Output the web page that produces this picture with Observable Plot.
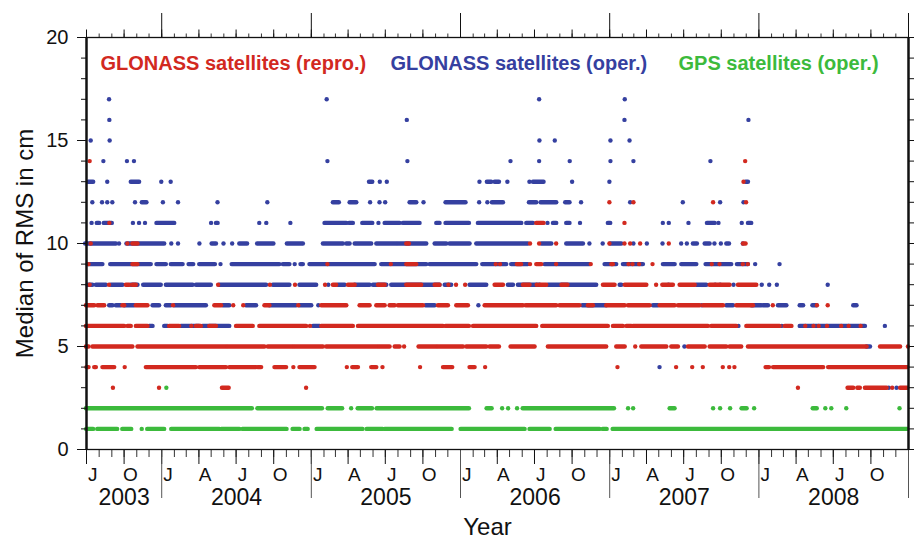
<!DOCTYPE html>
<html>
<head>
<meta charset="utf-8">
<script src="https://cdn.jsdelivr.net/npm/d3@7"></script>
<script src="https://cdn.jsdelivr.net/npm/@observablehq/plot@0.6"></script>
<style>
  html, body { margin: 0; padding: 0; background: #fff; }
</style>
</head>
<body>
<div id="chart"></div>
<script>
// Daily median RMS (cm), grouped into runs of consecutive days at the same level.
// Row: [cm, from, to] in decimal years, or [cm, day] for a single day.
const glonassOper = [
  [17, 2003.647], [17, 2005.103], [17, 2006.527], [17, 2007.101],
  [16, 2003.649], [16, 2005.640], [16, 2007.099], [16, 2007.930],
  [15, 2003.524], [15, 2003.651], [15, 2006.529], [15, 2006.632], [15, 2007.005], [15, 2007.133],
  [14, 2003.609], [14, 2003.767], [14, 2003.814], [14, 2005.108], [14, 2005.644], [14, 2006.335],
  [14, 2006.527], [14, 2006.732], [14, 2007.005], [14, 2007.159], [14, 2007.675],
  [13, 2003.510, 2003.544], [13, 2003.635], [13, 2003.796, 2003.852], [13, 2003.997], [13, 2004.060],
  [13, 2005.390, 2005.412], [13, 2005.459], [13, 2005.506], [13, 2006.127], [13, 2006.180, 2006.209],
  [13, 2006.232, 2006.261], [13, 2006.314], [13, 2006.462], [13, 2006.489, 2006.560], [13, 2006.748],
  [13, 2006.998], [13, 2007.914, 2007.930],
  [12, 2003.535], [12, 2003.600], [12, 2003.635], [12, 2003.669], [12, 2003.821], [12, 2003.870, 2003.901],
  [12, 2004.008], [12, 2004.109], [12, 2004.373], [12, 2004.706], [12, 2005.148, 2005.188],
  [12, 2005.260, 2005.305], [12, 2005.394], [12, 2005.457], [12, 2005.495], [12, 2005.662, 2005.707],
  [12, 2005.752], [12, 2005.903, 2006.037], [12, 2006.125], [12, 2006.180], [12, 2006.214, 2006.288],
  [12, 2006.462, 2006.511], [12, 2006.540, 2006.645], [12, 2006.705, 2006.734], [12, 2006.808],
  [12, 2007.137], [12, 2007.490], [12, 2007.740], [12, 2007.897],
  [11, 2003.530], [11, 2003.568, 2003.584], [11, 2003.615, 2003.669], [11, 2003.807], [11, 2003.848],
  [11, 2003.888], [11, 2003.968, 2004.087], [11, 2004.330], [11, 2004.366, 2004.377], [11, 2004.652],
  [11, 2004.699], [11, 2004.860], [11, 2005.092, 2005.238], [11, 2005.256, 2005.282], [11, 2005.345, 2005.412],
  [11, 2005.450], [11, 2005.495, 2005.595], [11, 2005.617, 2005.729], [11, 2005.841, 2005.863],
  [11, 2005.903, 2006.060], [11, 2006.120, 2006.411], [11, 2006.444, 2006.489], [11, 2006.583],
  [11, 2006.623, 2006.645], [11, 2006.712, 2006.734], [11, 2006.801], [11, 2006.991, 2007.007],
  [11, 2007.356], [11, 2007.396], [11, 2007.528], [11, 2007.655, 2007.707], [11, 2007.729], [11, 2007.885],
  [11, 2007.930, 2007.952],
  [10, 2003.490, 2003.696], [10, 2003.714], [10, 2003.767, 2004.020], [10, 2004.064], [10, 2004.109],
  [10, 2004.252], [10, 2004.337, 2004.366], [10, 2004.413], [10, 2004.471], [10, 2004.522, 2004.574],
  [10, 2004.641, 2004.750], [10, 2004.840, 2004.947], [10, 2005.081, 2005.215], [10, 2005.238, 2005.260],
  [10, 2005.294, 2005.405], [10, 2005.439, 2005.573], [10, 2005.584, 2005.774], [10, 2005.830, 2005.908],
  [10, 2005.930, 2006.064], [10, 2006.109, 2006.455], [10, 2006.545, 2006.612], [10, 2006.712, 2006.824],
  [10, 2006.864], [10, 2006.953], [10, 2007.007, 2007.081], [10, 2007.159], [10, 2007.249], [10, 2007.354],
  [10, 2007.479], [10, 2007.517], [10, 2007.561, 2007.588], [10, 2007.640, 2007.673], [10, 2007.702],
  [10, 2007.745], [10, 2007.785, 2007.803], [10, 2007.892],
  [9, 2003.506, 2003.606], [9, 2003.658, 2003.930], [9, 2003.968, 2004.031], [9, 2004.064, 2004.143],
  [9, 2004.183, 2004.214], [9, 2004.254, 2004.359], [9, 2004.393], [9, 2004.471, 2004.790],
  [9, 2004.813, 2004.857], [9, 2004.889], [9, 2004.931, 2004.947], [9, 2004.991, 2005.428],
  [9, 2005.472, 2005.774], [9, 2005.796, 2006.109], [9, 2006.149, 2006.310], [9, 2006.343, 2006.455],
  [9, 2006.567, 2006.869], [9, 2006.969, 2007.047], [9, 2007.092, 2007.226], [9, 2007.360, 2007.439],
  [9, 2007.483, 2007.584], [9, 2007.646, 2007.818], [9, 2007.856, 2007.930], [9, 2007.975], [9, 2008.138],
  [8, 2003.506, 2003.539], [8, 2003.562, 2003.629], [8, 2003.662, 2003.740], [8, 2003.796, 2003.841],
  [8, 2003.879, 2003.997], [8, 2004.031, 2004.210], [8, 2004.232, 2004.332], [8, 2004.388, 2004.701],
  [8, 2004.746, 2004.857], [8, 2004.924, 2005.036], [8, 2005.114], [8, 2005.180, 2005.227],
  [8, 2005.294, 2005.394], [8, 2005.416, 2005.506], [8, 2005.539, 2005.863], [8, 2005.897, 2005.941],
  [8, 2006.064, 2006.176], [8, 2006.321, 2006.355], [8, 2006.388, 2006.533], [8, 2006.589, 2006.913],
  [8, 2007.070, 2007.081], [8, 2007.394], [8, 2007.584, 2007.651], [8, 2007.707], [8, 2007.740],
  [8, 2007.830], [8, 2008.019], [8, 2008.069], [8, 2008.120], [8, 2008.460],
  [7, 2003.651, 2003.673], [7, 2003.696, 2003.729], [7, 2003.752, 2003.819], [7, 2003.942, 2003.986],
  [7, 2004.031, 2004.064], [7, 2004.087, 2004.299], [7, 2004.411, 2004.455], [7, 2004.567, 2004.634],
  [7, 2004.723, 2004.902], [7, 2004.924, 2005.003], [7, 2005.047], [7, 2005.769, 2005.830], [7, 2006.120],
  [7, 2006.819, 2006.980], [7, 2007.293, 2007.327], [7, 2007.617], [7, 2007.785, 2007.830],
  [7, 2007.952, 2008.019], [7, 2008.031, 2008.064], [7, 2008.131, 2008.187], [7, 2008.276, 2008.299],
  [7, 2008.361, 2008.388], [7, 2008.634, 2008.656],
  [6, 2003.919, 2003.942], [6, 2004.020, 2004.042], [6, 2004.131, 2004.254], [6, 2004.277, 2004.455],
  [6, 2005.014, 2005.060], [6, 2007.863], [6, 2008.153], [6, 2008.276, 2008.712], [6, 2008.842],
  [5, 2007.501], [5, 2008.723, 2008.746],
  [4, 2007.334],
  [3, 2008.868], [3, 2008.920]
];

const glonassRepro = [
  [14, 2003.517], [14, 2007.908],
  [13, 2007.897],
  [12, 2006.998], [12, 2007.159], [12, 2007.693], [12, 2007.914],
  [11, 2003.649], [11, 2006.511, 2006.560], [11, 2007.099],
  [10, 2003.524], [10, 2003.770], [10, 2003.807, 2003.841], [10, 2005.640, 2005.658], [10, 2006.466],
  [10, 2006.527], [10, 2006.641], [10, 2006.998], [10, 2007.099], [10, 2007.137], [10, 2007.204],
  [10, 2007.396], [10, 2007.897, 2007.914],
  [9, 2003.510], [9, 2003.807, 2003.841], [9, 2005.108], [9, 2005.533], [9, 2005.640, 2005.707],
  [9, 2006.236], [9, 2006.265], [9, 2006.381, 2006.410], [9, 2006.466], [9, 2006.511, 2006.545],
  [9, 2006.641], [9, 2006.873], [9, 2007.014, 2007.025], [9, 2007.126], [9, 2007.153], [9, 2007.197],
  [9, 2007.287], [9, 2007.684], [9, 2007.736], [9, 2007.892], [9, 2007.926],
  [8, 2003.517], [8, 2003.647], [8, 2003.763, 2003.785], [8, 2003.807, 2003.830], [8, 2004.377],
  [8, 2004.723], [8, 2004.891], [8, 2005.092], [8, 2005.148, 2005.170], [8, 2005.249, 2005.294],
  [8, 2005.450, 2005.495], [8, 2005.640, 2005.740], [8, 2005.830, 2005.863], [8, 2005.919], [8, 2005.970],
  [8, 2006.031], [8, 2006.232, 2006.288], [8, 2006.422, 2006.466], [8, 2006.511], [8, 2006.533, 2006.578],
  [8, 2006.680, 2006.720], [8, 2006.958, 2007.036], [8, 2007.104, 2007.249], [8, 2007.311],
  [8, 2007.356, 2007.427], [8, 2007.472, 2007.573], [8, 2007.673, 2007.807], [8, 2007.863, 2007.986],
  [7, 2003.495, 2003.551], [7, 2003.573, 2003.618], [7, 2003.740, 2003.752], [7, 2003.830, 2003.908],
  [7, 2004.076], [7, 2004.355, 2004.400], [7, 2004.478], [7, 2004.545], [7, 2004.690, 2004.723],
  [7, 2004.913], [7, 2005.070, 2005.238], [7, 2005.327, 2005.394], [7, 2005.439, 2005.495],
  [7, 2005.528, 2005.562], [7, 2005.584, 2005.752], [7, 2005.852, 2005.919], [7, 2005.975, 2006.053],
  [7, 2006.165, 2006.422], [7, 2006.440, 2006.645], [7, 2006.667, 2006.801], [7, 2006.857, 2006.891],
  [7, 2006.980, 2007.104], [7, 2007.126, 2007.271], [7, 2007.338, 2007.439], [7, 2007.461, 2007.606],
  [7, 2007.629, 2007.763], [7, 2007.852, 2007.964], [7, 2008.093], [7, 2008.388], [7, 2008.460],
  [6, 2003.495, 2003.752], [6, 2003.774, 2003.796], [6, 2003.830, 2003.908], [6, 2004.053, 2004.120],
  [6, 2004.198], [6, 2004.232, 2004.265], [6, 2004.321, 2004.366], [6, 2004.500, 2004.612],
  [6, 2004.656, 2004.969], [6, 2004.991], [6, 2005.070, 2005.282], [6, 2005.316, 2005.886],
  [6, 2005.903, 2006.060], [6, 2006.087, 2006.511], [6, 2006.551, 2006.991], [6, 2007.025, 2007.092],
  [6, 2007.115, 2007.148], [6, 2007.159, 2007.662], [6, 2007.684, 2007.852], [6, 2007.919, 2008.142],
  [6, 2008.176, 2008.221], [6, 2008.310], [6, 2008.365], [6, 2008.400], [6, 2008.455], [6, 2008.550],
  [6, 2008.600], [6, 2008.680],
  [5, 2003.495, 2003.513], [5, 2003.539, 2003.807], [5, 2003.841, 2004.433], [5, 2004.444, 2004.690],
  [5, 2004.712, 2004.880], [5, 2004.891, 2005.081], [5, 2005.103, 2005.450], [5, 2005.461, 2005.528],
  [5, 2005.562, 2005.595], [5, 2005.622], [5, 2005.722, 2005.841], [5, 2005.852, 2006.020],
  [5, 2006.042, 2006.176], [5, 2006.198, 2006.261], [5, 2006.339, 2006.500], [5, 2006.589, 2006.980],
  [5, 2007.047, 2007.104], [5, 2007.171], [5, 2007.215, 2007.383], [5, 2007.416, 2007.461],
  [5, 2007.528, 2007.640], [5, 2007.673, 2007.785], [5, 2007.807, 2007.885], [5, 2007.930, 2008.723],
  [5, 2008.813, 2008.947], [5, 2008.996],
  [4, 2003.499, 2003.513], [4, 2003.551, 2003.562], [4, 2003.606, 2003.685], [4, 2003.752],
  [4, 2003.897, 2004.232], [4, 2004.254, 2004.433], [4, 2004.455, 2004.634], [4, 2004.645, 2004.668],
  [4, 2004.757, 2004.835], [4, 2004.880], [4, 2004.924, 2005.025], [4, 2005.238], [4, 2005.278, 2005.316],
  [4, 2005.405, 2005.439], [4, 2005.477], [4, 2005.729], [4, 2005.886, 2005.948], [4, 2006.064, 2006.098],
  [4, 2006.165], [4, 2007.052], [4, 2007.445], [4, 2007.553], [4, 2007.624], [4, 2007.758], [4, 2007.801],
  [4, 2007.836], [4, 2008.048, 2008.071], [4, 2008.098, 2008.433], [4, 2008.466, 2008.995],
  [3, 2003.673], [3, 2003.982], [3, 2004.406, 2004.451], [3, 2004.965], [3, 2008.261],
  [3, 2008.596, 2008.634], [3, 2008.661, 2008.678], [3, 2008.712, 2008.857], [3, 2008.891],
  [3, 2008.947, 2008.995]
];

const gpsOper = [
  [3, 2004.031],
  [2, 2003.495, 2004.606], [2, 2004.643, 2005.075], [2, 2005.113, 2005.210], [2, 2005.267],
  [2, 2005.314, 2005.410], [2, 2005.441, 2006.060], [2, 2006.178, 2006.212], [2, 2006.279], [2, 2006.319],
  [2, 2006.379], [2, 2006.420, 2007.032], [2, 2007.123], [2, 2007.157], [2, 2007.405, 2007.438],
  [2, 2007.693], [2, 2007.740], [2, 2007.807], [2, 2007.887, 2007.921], [2, 2007.968],
  [2, 2008.363, 2008.390], [2, 2008.444], [2, 2008.484], [2, 2008.584], [2, 2008.940],
  [1, 2003.497, 2003.544], [1, 2003.571, 2003.705], [1, 2003.739, 2003.799], [1, 2003.866],
  [1, 2003.906, 2004.020], [1, 2004.067, 2004.389], [1, 2004.402, 2004.523], [1, 2004.543, 2004.838],
  [1, 2004.878, 2004.925], [1, 2004.958, 2004.979], [1, 2005.039, 2005.347], [1, 2005.374, 2005.481],
  [1, 2005.495, 2005.944], [1, 2006.004, 2006.433], [1, 2006.466, 2006.601], [1, 2006.641, 2006.936],
  [1, 2006.956, 2006.983], [1, 2007.023, 2008.995]
];

const seriesNames = ["GLONASS satellites (repro.)", "GLONASS satellites (oper.)", "GPS satellites (oper.)"];
const seriesColors = ["#d2291f", "#3540a0", "#3cba3c"];
const yearLabels = [2003, 2004, 2005, 2006, 2007, 2008];
const quarterLetters = ["J", "A", "J", "O"];
const yTickValues = [0, 5, 10, 15, 20];

// decimal year -> UTC date
function fromDecimalYear(t) {
  const y = Math.floor(t);
  const a = Date.UTC(y, 0, 1), b = Date.UTC(y + 1, 0, 1);
  return new Date(a + (t - y) * (b - a));
}
function toRows(runs) {
  return runs.map(([v, s, e]) => ({
    v, start: fromDecimalYear(s), end: fromDecimalYear(e ?? s), single: e === undefined
  }));
}

const start = new Date(Date.UTC(2003, 6, 1));
const end = new Date(Date.UTC(2009, 0, 1));
const months = d3.utcMonth.range(start, d3.utcDay.offset(end, 1));
const quarters = months.filter(d => d.getUTCMonth() % 3 === 0);
const years = d3.utcYear.range(d3.utcDay.offset(start, 1), d3.utcDay.offset(end, 1));

const monthLabels = quarters.filter(d => d < end).map(d => ({
  date: new Date((+d + +d3.utcMonth.offset(d, 1)) / 2),
  label: quarterLetters[d.getUTCMonth() / 3]
}));
const yearTexts = yearLabels.map(y => {
  const a = Math.max(Date.UTC(y, 0, 1), +start);
  const b = Math.min(Date.UTC(y + 1, 0, 1), +end);
  return {date: new Date((a + b) / 2), label: String(y)};
});

function seriesMarks(runs, color) {
  const rows = toRows(runs);
  return [
    Plot.ruleY(rows.filter(d => !d.single), {
      y: "v", x1: "start", x2: "end", stroke: color, strokeWidth: 4.4, strokeLinecap: "round"
    }),
    Plot.dot(rows.filter(d => d.single), {x: "start", y: "v", r: 2.2, fill: color, stroke: null})
  ];
}

const blank = () => "";
const font = "'Liberation Sans', Arial, Helvetica, sans-serif";

const chart = Plot.plot({
  width: 914,
  height: 541,
  marginLeft: 86,
  marginRight: 6,
  marginTop: 37,
  marginBottom: 92,
  style: {fontFamily: font, fontSize: "20px", color: "#111", background: "#fff"},
  x: {type: "utc", domain: [start, end], axis: null},
  y: {domain: [0, 20], axis: null},
  marks: [
    ...seriesMarks(glonassOper, seriesColors[1]),
    ...seriesMarks(glonassRepro, seriesColors[0]),
    ...seriesMarks(gpsOper, seriesColors[2]),

    // bottom time axis: month, quarter and year ticks
    Plot.axisX({anchor: "bottom", ticks: months, tickSize: 8, tickFormat: blank, label: null, stroke: "#333"}),
    Plot.axisX({anchor: "bottom", ticks: quarters, tickSize: 15, tickFormat: blank, label: null, stroke: "#111"}),
    Plot.axisX({anchor: "bottom", ticks: years, tickSize: 49, tickFormat: blank, label: null, stroke: "#555"}),
    // top mirror ticks
    Plot.axisX({anchor: "top", ticks: months, tickSize: 4.5, tickFormat: blank, label: null, stroke: "#333"}),
    Plot.axisX({anchor: "top", ticks: quarters, tickSize: 8.5, tickFormat: blank, label: null, stroke: "#111"}),
    Plot.axisX({anchor: "top", ticks: years, tickSize: 25, tickFormat: blank, label: null, stroke: "#111"}),

    Plot.text(monthLabels, {x: "date", text: "label", frameAnchor: "bottom", lineAnchor: "middle", dy: 25, fontSize: 19, fill: "#111"}),
    Plot.text(yearTexts, {x: "date", text: "label", frameAnchor: "bottom", lineAnchor: "middle", dy: 48, fontSize: 23, fill: "#111"}),

    // value axes
    Plot.axisY({anchor: "left", ticks: d3.range(0, 21), tickSize: 5, tickFormat: blank, label: null, stroke: "#111"}),
    Plot.axisY({anchor: "left", ticks: yTickValues, tickSize: 9, tickPadding: 9, fontSize: 20, label: null, stroke: "#111"}),
    Plot.axisY({anchor: "right", ticks: d3.range(0, 21), tickSize: 5, tickFormat: blank, label: null, stroke: "#111"}),
    Plot.axisY({anchor: "right", ticks: yTickValues, tickSize: 9, tickFormat: blank, label: null, stroke: "#111"}),

    // frame
    Plot.frame({stroke: "#111", strokeWidth: 1.3}),
    Plot.ruleX([start, end], {stroke: "#111", strokeWidth: 2.4}),

    // axis titles
    Plot.text(["Median of RMS in cm"], {frameAnchor: "left", textAnchor: "middle", lineAnchor: "middle", rotate: -90, dx: -61, fontSize: 24, fill: "#111"}),
    Plot.text(["Year"], {frameAnchor: "bottom", lineAnchor: "middle", dx: -10, dy: 78, fontSize: 24, fill: "#111"}),

    // legend
    Plot.text([seriesNames[0]], {frameAnchor: "top-left", lineAnchor: "middle", dx: 14, dy: 26, textAnchor: "start", fontSize: 20, fontWeight: "bold", fill: seriesColors[0]}),
    Plot.text([seriesNames[1]], {frameAnchor: "top-left", lineAnchor: "middle", dx: 304, dy: 26, textAnchor: "start", fontSize: 20, fontWeight: "bold", fill: seriesColors[1]}),
    Plot.text([seriesNames[2]], {frameAnchor: "top-left", lineAnchor: "middle", dx: 592, dy: 26, textAnchor: "start", fontSize: 20, fontWeight: "bold", fill: seriesColors[2]})
  ]
});

document.getElementById("chart").append(chart);
</script>
</body>
</html>
